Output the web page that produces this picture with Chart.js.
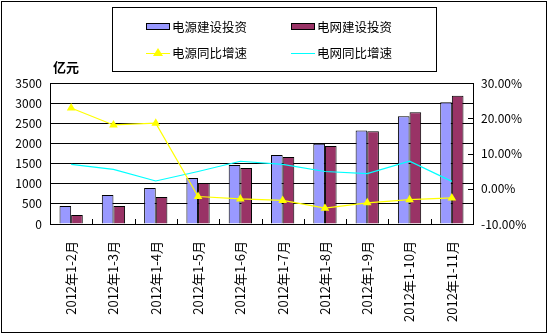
<!DOCTYPE html>
<html>
<head>
<meta charset="utf-8">
<script src="https://cdn.jsdelivr.net/npm/chart.js@4/dist/chart.umd.min.js"></script>
<style>
  html, body { margin: 0; padding: 0; background: #ffffff; }
  canvas { display: block; }
</style>
</head>
<body>
<canvas id="chart" width="550" height="336"></canvas>
<script>
// Categories (cumulative months of 2012)
const categories = ['2012年1-2月', '2012年1-3月', '2012年1-4月', '2012年1-5月', '2012年1-6月',
                    '2012年1-7月', '2012年1-8月', '2012年1-9月', '2012年1-10月', '2012年1-11月'];

// Investment, 亿元
const powerInvest = [446, 719, 892, 1140, 1463, 1711, 1991, 2320, 2677, 3024];
const gridInvest  = [223, 446, 669, 1016, 1388, 1661, 1934, 2305, 2777, 3181];

// Year-on-year growth, %
const powerGrowth = [22.9, 18.1, 18.6, -2.2, -2.9, -3.3, -5.5, -4.0, -3.1, -2.6];
const gridGrowth  = [6.9, 5.5, 2.2, 4.9, 7.8, 6.9, 4.9, 4.3, 7.8, 2.1];

// Axis ticks
const leftTicks  = [0, 500, 1000, 1500, 2000, 2500, 3000, 3500];
const rightTicks = [-10, 0, 10, 20, 30];

const seriesNames = ['电源建设投资', '电网建设投资', '电源同比增速', '电网同比增速'];

const FONT = '"Noto Sans CJK SC", "Noto Sans", sans-serif';
const PURPLE = '#9999FF';
const MAROON = '#993366';
const YELLOW = '#FFFF00';
const CYAN = '#00FFFF';

const framePlugin = {
  id: 'frame',
  beforeDraw(chart) {
    const ctx = chart.ctx;
    ctx.save();
    ctx.fillStyle = '#ffffff';
    ctx.fillRect(0, 0, chart.width, chart.height);
    ctx.restore();
  },
  afterDraw(chart) {
    const ctx = chart.ctx;
    const a = chart.chartArea;
    ctx.save();
    ctx.strokeStyle = '#000000';
    ctx.lineWidth = 1;

    // outer border
    ctx.strokeRect(1.5, 1.5, 545, 331);

    // plot frame
    ctx.strokeRect(Math.round(a.left) + 0.5, Math.round(a.top) + 0.5,
                   Math.round(a.right - a.left), Math.round(a.bottom - a.top));

    // short inner ticks at category boundaries on the bottom axis
    const xs = chart.scales.x;
    ctx.beginPath();
    for (let i = 0; i < categories.length - 1; i++) {
      const bx = Math.round((xs.getPixelForTick(i) + xs.getPixelForTick(i + 1)) / 2) + 0.5;
      ctx.moveTo(bx, a.bottom);
      ctx.lineTo(bx, a.bottom - 5);
    }
    // short inner ticks on the right axis
    const ys = chart.scales.y1;
    rightTicks.forEach(v => {
      const py = Math.round(ys.getPixelForValue(v)) + 0.5;
      ctx.moveTo(a.right, py);
      ctx.lineTo(a.right - 5, py);
    });
    ctx.stroke();

    // unit label
    ctx.fillStyle = '#000000';
    ctx.font = 'bold 13px ' + FONT;
    ctx.textBaseline = 'middle';
    ctx.textAlign = 'left';
    ctx.fillText('亿元', 53, 67);

    // legend box
    ctx.strokeRect(112.5, 7.5, 324, 64);
    ctx.font = '12.5px ' + FONT;
    const items = [
      { x: 146, y: 27, kind: 'bar', color: PURPLE, name: seriesNames[0] },
      { x: 291, y: 27, kind: 'bar', color: MAROON, name: seriesNames[1] },
      { x: 146, y: 53, kind: 'tri', color: YELLOW, name: seriesNames[2] },
      { x: 291, y: 53, kind: 'line', color: CYAN, name: seriesNames[3] }
    ];
    items.forEach(it => {
      if (it.kind === 'bar') {
        ctx.fillStyle = it.color;
        ctx.fillRect(it.x, it.y - 4, 24, 7);
        ctx.strokeStyle = '#000000';
        ctx.strokeRect(it.x + 0.5, it.y - 3.5, 23, 6);
      } else {
        ctx.strokeStyle = it.color;
        ctx.beginPath();
        ctx.moveTo(it.x, it.y + 0.5);
        ctx.lineTo(it.x + 24, it.y + 0.5);
        ctx.stroke();
        if (it.kind === 'tri') {
          ctx.fillStyle = it.color;
          ctx.beginPath();
          ctx.moveTo(it.x + 12, it.y - 5);
          ctx.lineTo(it.x + 17, it.y + 3);
          ctx.lineTo(it.x + 7, it.y + 3);
          ctx.closePath();
          ctx.fill();
        }
      }
      ctx.fillStyle = '#000000';
      ctx.fillText(it.name, it.x + 26, it.y);
    });
    ctx.restore();
  }
};

new Chart(document.getElementById('chart'), {
  data: {
    labels: categories,
    datasets: [
      {
        type: 'line', label: seriesNames[2], data: powerGrowth, yAxisID: 'y1', order: 1,
        borderColor: YELLOW, backgroundColor: YELLOW, borderWidth: 1.2,
        pointStyle: 'triangle', pointRadius: 5, pointBorderWidth: 0, tension: 0
      },
      {
        type: 'line', label: seriesNames[3], data: gridGrowth, yAxisID: 'y1', order: 2,
        borderColor: CYAN, backgroundColor: CYAN, borderWidth: 1.2,
        pointRadius: 0, tension: 0
      },
      {
        type: 'bar', label: seriesNames[0], data: powerInvest, yAxisID: 'y', order: 3,
        backgroundColor: PURPLE, borderColor: '#000000', borderWidth: 1,
        categoryPercentage: 0.55, barPercentage: 1.0
      },
      {
        type: 'bar', label: seriesNames[1], data: gridInvest, yAxisID: 'y', order: 3,
        backgroundColor: MAROON, borderColor: '#000000', borderWidth: 1,
        categoryPercentage: 0.55, barPercentage: 1.0
      }
    ]
  },
  options: {
    responsive: false,
    animation: false,
    devicePixelRatio: 1,
    layout: { padding: { top: 83, left: 0, right: 0, bottom: 0 } },
    plugins: { legend: { display: false }, tooltip: { enabled: false } },
    scales: {
      x: {
        grid: { display: false },
        border: { display: false },
        ticks: {
          autoSkip: false, maxRotation: 90, minRotation: 90, padding: 9,
          color: '#000000', font: { family: FONT, size: 13 }
        },
        afterFit: s => { s.height = 112; }
      },
      y: {
        position: 'left',
        min: leftTicks[0], max: leftTicks[leftTicks.length - 1],
        grid: { color: '#000000', lineWidth: 1, drawTicks: false },
        border: { display: false },
        afterBuildTicks: s => { s.ticks = leftTicks.map(v => ({ value: v })); },
        ticks: {
          padding: 8, color: '#000000', font: { family: FONT, size: 12 },
          callback: v => String(v)
        },
        afterFit: s => { s.width = 50; }
      },
      y1: {
        position: 'right',
        min: rightTicks[0], max: rightTicks[rightTicks.length - 1],
        grid: { display: false, drawTicks: false },
        border: { display: false },
        afterBuildTicks: s => { s.ticks = rightTicks.map(v => ({ value: v })); },
        ticks: {
          padding: 8, color: '#000000', font: { family: FONT, size: 12 },
          callback: v => v.toFixed(2) + '%'
        },
        afterFit: s => { s.width = 77; }
      }
    }
  },
  plugins: [framePlugin]
});
</script>
</body>
</html>
